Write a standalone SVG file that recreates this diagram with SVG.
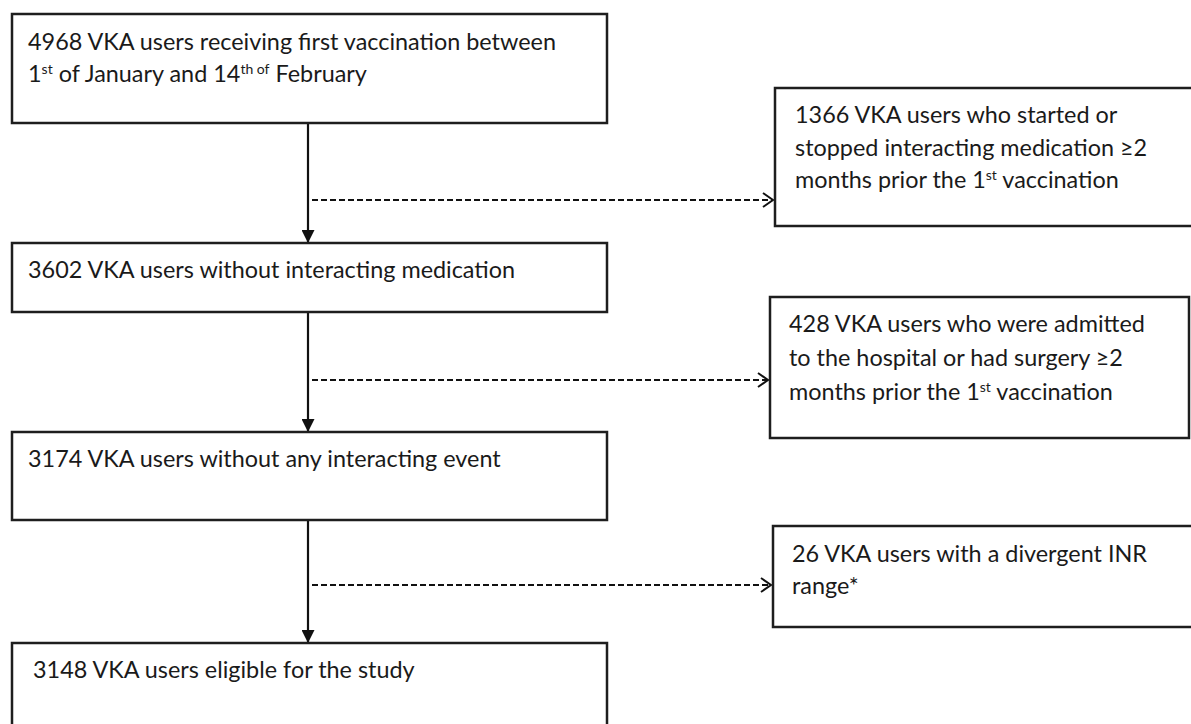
<svg xmlns="http://www.w3.org/2000/svg" width="1191" height="724" viewBox="0 0 1191 724">
<style>
.box{fill:#fff;stroke:#1e1e1e;stroke-width:2.5}
.t{font-family:Lato,"Open Sans","Liberation Sans",sans-serif;font-size:23.4px;fill:#1a1a1a}
.sup{font-size:14px}
.solid{stroke:#111;stroke-width:2.2;fill:none}
.dash{stroke:#111;stroke-width:2;fill:none;stroke-dasharray:6 3}
</style>
<defs>
<marker id="tri" markerWidth="13" markerHeight="13" refX="12" refY="6.5" orient="auto" markerUnits="userSpaceOnUse">
<path d="M0,0 L13,6.5 L0,13 Z" fill="#111"/>
</marker>
<marker id="chev" markerWidth="14" markerHeight="16" refX="12" refY="8" orient="auto" markerUnits="userSpaceOnUse">
<path d="M2,1 L12,8 L2,15" fill="none" stroke="#111" stroke-width="2"/>
</marker>
</defs>
<rect width="1191" height="724" fill="#fff"/>
<g id="connectors">
<line class="solid" x1="308" y1="124" x2="308" y2="242" marker-end="url(#tri)"/>
<line class="solid" x1="308" y1="313" x2="308" y2="431" marker-end="url(#tri)"/>
<line class="solid" x1="308" y1="520" x2="308" y2="642" marker-end="url(#tri)"/>
<line class="dash" x1="312" y1="200" x2="773" y2="200" marker-end="url(#chev)"/>
<line class="dash" x1="312" y1="380" x2="768" y2="380" marker-end="url(#chev)"/>
<line class="dash" x1="312" y1="585" x2="771" y2="585" marker-end="url(#chev)"/>
</g>
<g id="n4968">
<rect class="box" x="12" y="14" width="595" height="109"/>
<text class="t" x="28" y="50">4968 VKA users receiving first vaccination between</text>
<text class="t" x="28" y="82">1<tspan class="sup" dy="-8">st</tspan><tspan dy="8"> of January and 14</tspan><tspan class="sup" dy="-8">th of</tspan><tspan dy="8"> February</tspan></text>
</g>
<g id="n1366">
<rect class="box" x="775" y="88" width="425" height="138"/>
<text class="t" x="795" y="123">1366 VKA users who started or</text>
<text class="t" x="795" y="156">stopped interacting medication ≥2</text>
<text class="t" x="795" y="188">months prior the 1<tspan class="sup" dy="-8">st</tspan><tspan dy="8"> vaccination</tspan></text>
</g>
<g id="n3602">
<rect class="box" x="12" y="243" width="595" height="69"/>
<text class="t" x="28" y="278">3602 VKA users without interacting medication</text>
</g>
<g id="n428">
<rect class="box" x="770" y="297" width="419" height="141"/>
<text class="t" x="789" y="332">428 VKA users who were admitted</text>
<text class="t" x="789" y="366">to the hospital or had surgery ≥2</text>
<text class="t" x="789" y="400">months prior the 1<tspan class="sup" dy="-8">st</tspan><tspan dy="8"> vaccination</tspan></text>
</g>
<g id="n3174">
<rect class="box" x="12" y="432" width="595" height="88"/>
<text class="t" x="28" y="467">3174 VKA users without any interacting event</text>
</g>
<g id="n26">
<rect class="box" x="773" y="526" width="427" height="101"/>
<text class="t" x="792" y="562">26 VKA users with a divergent INR</text>
<text class="t" x="792" y="594">range*</text>
</g>
<g id="n3148">
<rect class="box" x="12" y="643" width="595" height="100"/>
<text class="t" x="33" y="678">3148 VKA users eligible for the study</text>
</g>
</svg>
